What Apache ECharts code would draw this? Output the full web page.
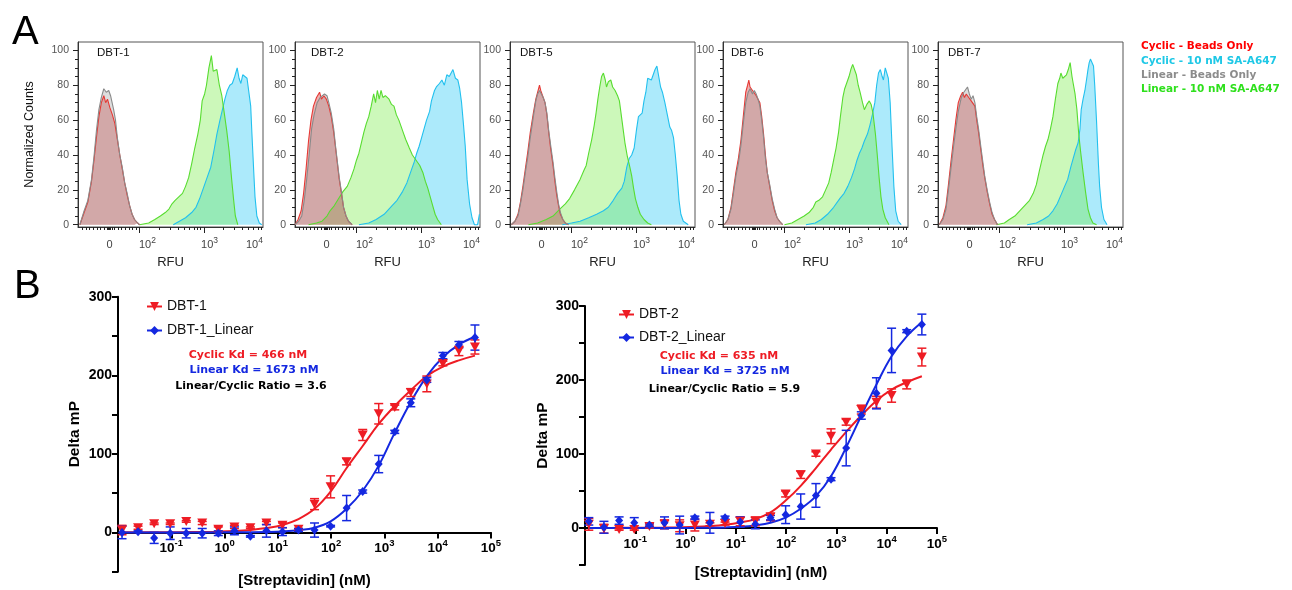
<!DOCTYPE html>
<html><head><meta charset="utf-8">
<script src="https://cdn.jsdelivr.net/npm/echarts@6.0.0/dist/echarts.min.js"></script>
<style>html,body{margin:0;padding:0;background:#fff}#c{width:1292px;height:590px}</style>
</head><body><div id="c"></div>
<script>
// ---------------- Panel A: flow histograms (x = display position on RFU axis, y = normalized count) ----------------
const histPanels = ['DBT-1','DBT-2','DBT-5','DBT-6','DBT-7'];
const histLegend = ['Cyclic - Beads Only','Cyclic - 10 nM SA-A647','Linear - Beads Only','Linear - 10 nM SA-A647'];
const histLabelPos = [1.515, 2.13, 3.14, 3.87];
const histLabelExp = ['0','2','3','4'];
const histTickMajor = [2.003, 3.046];
const histTickMinor = [1.07,1.13,1.19,1.25,1.31,1.37,1.43,1.47,1.49,1.51,1.53,1.55,1.59,1.65,1.71,1.77,1.83,1.89,1.95,
  2.317,2.5,2.63,2.731,2.814,2.884,2.944,2.997,3.36,3.543,3.673,3.774,3.857,3.927,3.987];
const histYMajor = [0,20,40,60,80,100];
const histYMinor = [5,10,15,25,30,35,45,50,55,65,70,75,85,90,95];

const dbt1CyclicBeads = [[1.03,0],[1.1,7],[1.16,13],[1.22,25],[1.26,37],[1.3,50],[1.34,62],[1.38,70],[1.42,74],[1.45,70],[1.48,72],[1.52,67],[1.56,63],[1.6,58],[1.64,49],[1.68,40],[1.72,32],[1.76,24],[1.8,17],[1.84,11],[1.88,6],[1.92,3],[1.97,1],[2.0,0]];
const dbt1LinearBeads = [[1.03,0],[1.1,8],[1.16,14],[1.22,26],[1.26,39],[1.3,54],[1.34,66],[1.38,73],[1.42,78],[1.46,76],[1.5,77],[1.53,74],[1.58,66],[1.61,60],[1.64,50],[1.68,40],[1.72,33],[1.76,24],[1.8,18],[1.84,11],[1.88,6],[1.92,3],[1.97,1],[2.0,0]];
const dbt1LinearSA = [[2.0,0],[2.15,1],[2.25,3],[2.34,5],[2.42,7],[2.48,9],[2.53,12],[2.58,14],[2.64,16],[2.7,18],[2.75,22],[2.8,27],[2.85,35],[2.9,44],[2.95,52],[2.99,60],[3.02,71],[3.06,75],[3.09,80],[3.13,90],[3.17,97],[3.2,88],[3.23,87],[3.26,89],[3.3,80],[3.34,74],[3.38,64],[3.42,54],[3.46,42],[3.5,26],[3.53,15],[3.56,5],[3.6,0]];
const dbt1CyclicSA = [[2.55,0],[2.65,2],[2.75,4],[2.85,7],[2.92,10],[2.98,15],[3.04,21],[3.1,27],[3.16,33],[3.22,44],[3.26,52],[3.31,60],[3.35,66],[3.39,72],[3.43,77],[3.47,80],[3.51,81],[3.55,85],[3.59,90],[3.62,84],[3.65,81],[3.68,86],[3.71,87],[3.75,84],[3.78,83],[3.81,68],[3.83,52],[3.86,30],[3.88,16],[3.91,5],[3.95,1],[3.99,0]];

const dbt2CyclicBeads = [[1.0,0],[1.05,3],[1.1,8],[1.14,18],[1.18,32],[1.22,48],[1.26,60],[1.3,68],[1.35,73],[1.4,76],[1.43,72],[1.47,74],[1.51,72],[1.55,68],[1.59,62],[1.63,53],[1.66,44],[1.69,35],[1.72,26],[1.76,17],[1.79,10],[1.83,5],[1.87,2],[1.93,0]];
const dbt2LinearBeads = [[1.0,0],[1.06,2],[1.11,5],[1.15,14],[1.19,26],[1.23,40],[1.27,55],[1.31,63],[1.36,70],[1.41,73],[1.44,72],[1.48,75],[1.52,74],[1.55,70],[1.59,64],[1.63,55],[1.66,45],[1.69,36],[1.72,27],[1.76,18],[1.79,10],[1.83,5],[1.87,2],[1.93,0]];
const dbt2LinearSA = [[1.22,0],[1.35,1],[1.44,2],[1.52,5],[1.57,8],[1.64,11],[1.71,15],[1.78,19],[1.85,22],[1.91,27],[1.96,32],[2.0,37],[2.04,41],[2.08,47],[2.12,53],[2.16,58],[2.2,62],[2.24,68],[2.28,75],[2.31,70],[2.34,77],[2.37,72],[2.4,77],[2.43,73],[2.47,74],[2.53,72],[2.57,69],[2.61,68],[2.65,63],[2.69,60],[2.75,54],[2.8,49],[2.86,44],[2.91,40],[2.95,38],[2.99,36],[3.03,34],[3.08,30],[3.12,25],[3.16,21],[3.2,16],[3.24,11],[3.28,6],[3.32,3],[3.38,0]];
const dbt2CyclicSA = [[2.04,0],[2.2,1],[2.32,3],[2.45,6],[2.58,11],[2.66,14],[2.75,19],[2.82,24],[2.86,28],[2.9,32],[2.94,36],[2.98,41],[3.02,45],[3.06,50],[3.1,55],[3.14,60],[3.19,65],[3.22,71],[3.27,77],[3.3,79],[3.35,81],[3.39,83],[3.43,80],[3.47,86],[3.51,85],[3.54,87],[3.57,89],[3.61,84],[3.65,83],[3.68,78],[3.71,70],[3.74,58],[3.77,45],[3.8,26],[3.84,12],[3.88,4],[3.92,0],[3.97,0],[4.0,6]];

const dbt5CyclicBeads = [[1.02,0],[1.08,2],[1.13,6],[1.17,13],[1.21,22],[1.25,32],[1.29,42],[1.33,53],[1.38,64],[1.42,72],[1.45,76],[1.48,80],[1.5,77],[1.53,74],[1.57,70],[1.6,63],[1.63,53],[1.66,44],[1.7,34],[1.73,25],[1.76,17],[1.79,11],[1.82,6],[1.86,3],[1.9,1],[1.95,0]];
const dbt5LinearBeads = [[1.02,0],[1.08,2],[1.13,5],[1.17,12],[1.21,20],[1.25,30],[1.29,39],[1.33,50],[1.38,62],[1.42,71],[1.45,75],[1.48,77],[1.51,76],[1.54,73],[1.57,70],[1.6,64],[1.63,54],[1.66,46],[1.7,36],[1.73,27],[1.76,19],[1.79,12],[1.82,7],[1.86,3],[1.9,1],[1.95,0]];
const dbt5LinearSA = [[1.3,0],[1.45,1],[1.59,3],[1.7,5],[1.81,9],[1.9,12],[1.97,15],[2.05,20],[2.14,26],[2.2,31],[2.24,34],[2.28,41],[2.33,49],[2.37,57],[2.4,64],[2.43,72],[2.46,79],[2.49,85],[2.52,87],[2.55,83],[2.57,79],[2.6,82],[2.64,83],[2.67,79],[2.71,77],[2.75,74],[2.78,71],[2.81,63],[2.84,55],[2.87,47],[2.91,39],[2.95,33],[2.98,28],[3.01,21],[3.04,15],[3.08,10],[3.12,6],[3.18,3],[3.24,1],[3.3,0]];
const dbt5CyclicSA = [[1.85,0],[2.0,1],[2.14,2],[2.28,4],[2.41,6],[2.52,8],[2.6,10],[2.68,14],[2.75,18],[2.82,21],[2.86,25],[2.9,33],[2.94,38],[2.98,40],[3.02,44],[3.06,55],[3.09,62],[3.12,61],[3.15,64],[3.18,71],[3.21,76],[3.24,84],[3.27,85],[3.3,83],[3.33,86],[3.36,89],[3.39,91],[3.42,85],[3.45,79],[3.48,76],[3.52,70],[3.56,63],[3.6,56],[3.63,54],[3.66,50],[3.69,40],[3.72,28],[3.75,14],[3.78,6],[3.82,2],[3.9,0]];

const dbt6CyclicBeads = [[1.02,0],[1.08,3],[1.13,10],[1.17,20],[1.21,30],[1.25,38],[1.29,48],[1.33,62],[1.37,76],[1.4,80],[1.42,83],[1.44,79],[1.47,78],[1.5,76],[1.54,74],[1.57,72],[1.6,70],[1.63,62],[1.66,52],[1.69,40],[1.72,30],[1.76,22],[1.8,14],[1.84,8],[1.88,4],[1.92,2],[1.97,0]];
const dbt6LinearBeads = [[1.02,0],[1.08,3],[1.13,9],[1.17,18],[1.21,28],[1.25,35],[1.29,45],[1.33,58],[1.37,70],[1.41,76],[1.44,78],[1.48,75],[1.51,77],[1.54,75],[1.57,72],[1.6,68],[1.63,60],[1.66,50],[1.69,38],[1.72,30],[1.76,23],[1.8,15],[1.84,9],[1.88,4],[1.92,2],[1.97,0]];
const dbt6LinearSA = [[2.0,0],[2.12,1],[2.22,3],[2.32,5],[2.4,7],[2.47,10],[2.51,13],[2.56,14],[2.62,16],[2.67,20],[2.72,24],[2.76,30],[2.8,37],[2.84,44],[2.88,53],[2.91,62],[2.95,73],[2.98,78],[3.02,82],[3.05,85],[3.08,89],[3.11,92],[3.14,91],[3.17,86],[3.2,80],[3.23,76],[3.27,70],[3.3,66],[3.34,69],[3.38,71],[3.41,69],[3.44,64],[3.48,52],[3.51,40],[3.54,27],[3.57,16],[3.6,9],[3.64,4],[3.7,0]];
const dbt6CyclicSA = [[2.35,0],[2.5,1],[2.6,3],[2.7,6],[2.8,10],[2.9,15],[2.97,18],[3.03,22],[3.09,27],[3.14,32],[3.18,37],[3.22,41],[3.26,44],[3.3,48],[3.35,52],[3.39,57],[3.43,63],[3.47,70],[3.5,80],[3.53,87],[3.56,89],[3.59,85],[3.61,83],[3.64,90],[3.66,91],[3.69,84],[3.72,70],[3.75,45],[3.78,22],[3.81,8],[3.85,2],[3.9,0]];

const dbt7CyclicBeads = [[1.02,0],[1.08,4],[1.13,11],[1.17,23],[1.21,36],[1.25,48],[1.29,60],[1.33,70],[1.37,74],[1.4,76],[1.43,73],[1.46,75],[1.5,73],[1.54,71],[1.57,72],[1.6,68],[1.63,60],[1.66,53],[1.7,42],[1.73,34],[1.76,27],[1.8,19],[1.84,12],[1.88,6],[1.92,3],[1.97,0]];
const dbt7LinearBeads = [[1.02,0],[1.08,3],[1.13,9],[1.17,20],[1.21,32],[1.25,44],[1.29,55],[1.33,65],[1.38,73],[1.42,76],[1.45,77],[1.48,79],[1.51,75],[1.54,72],[1.57,74],[1.6,70],[1.63,62],[1.66,55],[1.7,44],[1.73,36],[1.76,28],[1.8,20],[1.84,13],[1.88,7],[1.92,3],[1.97,0]];
const dbt7LinearSA = [[1.95,0],[2.08,1],[2.16,3],[2.25,5],[2.33,8],[2.41,11],[2.49,14],[2.55,18],[2.6,23],[2.65,31],[2.71,40],[2.75,45],[2.79,49],[2.83,55],[2.87,62],[2.91,72],[2.95,81],[2.98,84],[3.0,87],[3.03,84],[3.06,85],[3.09,86],[3.12,89],[3.15,93],[3.18,85],[3.2,81],[3.23,75],[3.26,66],[3.29,52],[3.32,42],[3.36,30],[3.4,19],[3.44,9],[3.48,4],[3.52,1],[3.58,0]];
const dbt7CyclicSA = [[2.45,0],[2.6,1],[2.71,3],[2.8,5],[2.87,8],[2.94,12],[3.0,17],[3.06,22],[3.11,26],[3.16,33],[3.2,38],[3.24,43],[3.28,47],[3.31,55],[3.33,66],[3.36,72],[3.39,77],[3.42,84],[3.44,89],[3.46,93],[3.48,95],[3.5,94],[3.53,91],[3.55,80],[3.58,59],[3.61,35],[3.63,22],[3.66,10],[3.7,3],[3.75,0]];

const cyclicBeadsSets = [dbt1CyclicBeads, dbt2CyclicBeads, dbt5CyclicBeads, dbt6CyclicBeads, dbt7CyclicBeads];
const linearBeadsSets = [dbt1LinearBeads, dbt2LinearBeads, dbt5LinearBeads, dbt6LinearBeads, dbt7LinearBeads];
const cyclicSASets = [dbt1CyclicSA, dbt2CyclicSA, dbt5CyclicSA, dbt6CyclicSA, dbt7CyclicSA];
const linearSASets = [dbt1LinearSA, dbt2LinearSA, dbt5LinearSA, dbt6LinearSA, dbt7LinearSA];

// ---------------- Panel B: FP binding curves ----------------
const conc = [0.0119,0.0238,0.0477,0.0954,0.191,0.381,0.763,1.53,3.05,6.10,12.2,24.4,48.8,97.7,195,391,781,1563,3125,6250,12500,25000,50000];
const dbt1Cyclic   = [3,6,11,11,14,12,4,7,6,12,9,4,36,58,90,124,151,159,178,189,215,231,236];
const dbt1CyclicSD = [6,2,1,1,1,2,3,2,1,2,3,1,7,14,4,7,13,3,5,10,3,6,9];
const dbt1Linear   = [0,1,-7,-1,-1,-1,-1,2,-5,2,1,3,3,8,31,52,87,128,165,194,225,239,248];
const dbt1LinearSD = [8,1,7,8,6,6,3,5,1,8,5,2,9,1,16,2,11,2,5,3,4,4,16];
const dbt2Cyclic   = [5,-1,-2,-2,2,5,3,4,5,6,9,9,15,46,72,100,124,143,160,170,179,194,231];
const dbt2CyclicSD = [8,6,1,1,2,6,8,8,2,2,6,6,5,4,5,3,10,4,6,8,9,6,12];
const dbt2Linear   = [9,1,10,7,4,7,4,14,7,14,8,5,14,18,29,44,66,108,152,182,240,266,275];
const dbt2LinearSD = [5,8,5,7,2,8,12,2,14,2,7,6,3,12,17,16,2,24,5,21,30,2,14];

// fitted curves at each concentration
const dbt1CyclicFit = [0.1,0.1,0.2,0.3,0.4,0.6,1,1.8,3.2,5.5,9.5,17,30,52,82,110,138,161,181,199,211,219,225];
const dbt1LinearFit = [0,0,0,0,0,0,0.1,0.2,0.3,0.6,1.3,2.8,6,14,30,53,85,127,166,199,223,239,249];
const dbt2CyclicFit = [0.1,0.1,0.2,0.3,0.4,0.6,1,1.6,2.7,4.5,7.5,12,21,37,57,81,106,130,152,172,187,197,205];
const dbt2LinearFit = [0,0,0,0,0,0,0.1,0.2,0.4,0.8,1.6,3.5,7,14,26,43,70,109,152,194,232,259,278];

const bYTicks = [0,100,200,300];
const kdTexts1 = ['Cyclic Kd = 466 nM','Linear Kd = 1673 nM','Linear/Cyclic Ratio = 3.6'];
const kdTexts2 = ['Cyclic Kd = 635 nM','Linear Kd = 3725 nM','Linear/Cyclic Ratio = 5.9'];

// ---------------- build ----------------
const SANS = "'Liberation Sans', Arial, sans-serif";
const VERD = "'DejaVu Sans', Verdana, sans-serif";
const RED = '#ee1c24', BLUE = '#1428e0';
const histColors = {
  cyan:  {fill:'rgba(40,200,245,0.55)', line:'#22c0ee'},
  green: {fill:'rgba(110,235,60,0.5)',  line:'#58dc30'},
  red:   {fill:'rgba(210,50,50,0.55)',  line:'#e53935'},
  gray:  {fill:'rgba(150,150,150,0.45)',line:'#8a8a8a'}
};
const histLefts = [78,295,510,723,938];
const histNameX = [97,311,520,731,948];

const grids=[], xAxes=[], yAxes=[], series=[], graphics=[];

function histLabelFmt(v){
  let best=0, bd=1e9;
  histLabelPos.forEach((p,i)=>{const d=Math.abs(p-v); if(d<bd){bd=d;best=i;}});
  const e = histLabelExp[best];
  return e==='0' ? '{n|0}' : '{b|10}{s|'+e+'}';
}
const histRich = {
  n:{fontSize:11, fontFamily:SANS, color:'#444', lineHeight:18},
  b:{fontSize:11, fontFamily:SANS, color:'#444', lineHeight:18},
  s:{fontSize:8.5, fontFamily:SANS, color:'#444', lineHeight:8, verticalAlign:'top'}
};

histPanels.forEach((name,i)=>{
  grids.push({left:histLefts[i], top:42, width:185, height:185, show:true, borderColor:'#555', borderWidth:1,
    backgroundColor:'transparent', containLabel:false, outerBoundsMode:'none'});
  xAxes.push({gridIndex:i, type:'value', position:'bottom', offset:0, min:1, max:4.01,
    axisLine:{show:true,onZero:false,lineStyle:{color:'#333',width:1}},
    axisTick:{show:true,customValues:histTickMajor,length:6,lineStyle:{color:'#222',width:1}},
    axisLabel:{customValues:histLabelPos, formatter:histLabelFmt, margin:9, rich:histRich},
    splitLine:{show:false},
    name:'RFU', nameLocation:'middle', nameGap:29,
    nameTextStyle:{fontSize:13, fontFamily:SANS, color:'#222'}});
  xAxes.push({gridIndex:i, type:'value', position:'bottom', offset:0, min:1, max:4.01,
    axisLine:{show:false,onZero:false},
    axisTick:{show:true,customValues:histTickMinor,length:3,lineStyle:{color:'#222',width:1}},
    axisLabel:{show:false}, splitLine:{show:false}});
  yAxes.push({gridIndex:i, type:'value', position:'left', offset:0, min:-1.3, max:104.8,
    axisLine:{show:true,onZero:false,lineStyle:{color:'#333',width:1}},
    axisTick:{show:true,customValues:histYMajor,length:5,lineStyle:{color:'#222'}},
    axisLabel:{customValues:histYMajor, fontSize:10.5, fontFamily:SANS, color:'#555', margin:9},
    splitLine:{show:false},
    name: i===0 ? 'Normalized Counts' : '', nameLocation:'middle', nameGap:42,
    nameTextStyle:{fontSize:12.5, fontFamily:SANS, color:'#111'}});
  yAxes.push({gridIndex:i, type:'value', position:'left', offset:0, min:-1.3, max:104.8,
    axisLine:{show:false,onZero:false},
    axisTick:{show:true,customValues:histYMinor,length:3,lineStyle:{color:'#222'}},
    axisLabel:{show:false}, splitLine:{show:false}});
  const xi = 2*i, yi = 2*i;
  const mk = (data, c, nm) => ({type:'line', name:nm, xAxisIndex:xi, yAxisIndex:yi, data:data,
    showSymbol:false, symbol:'none', smooth:false, silent:true,
    lineStyle:{color:c.line,width:1.1}, areaStyle:{color:c.fill, origin:0}});
  series.push(mk(cyclicSASets[i], histColors.cyan, histLegend[1]));
  series.push(mk(linearSASets[i], histColors.green, histLegend[3]));
  series.push(mk(cyclicBeadsSets[i], histColors.red, histLegend[0]));
  series.push(mk(linearBeadsSets[i], histColors.gray, histLegend[2]));
  graphics.push({type:'text', x:histNameX[i], y:53, silent:true,
    style:{text:name, fill:'#111', font:'11.5px '+SANS, align:'left', verticalAlign:'middle', textAlign:'left', textVerticalAlign:'middle'}});
});

// Panel B grids (x axis raised from the -50 floor up to the y = 0 line)
const bYMin = -50, bYMax = 300;
const bGrids = [
  {left:118, top:296.7, width:373, height:275, nameGapY:35, nameGapX:41},
  {left:585, top:306, width:352, height:259, nameGapY:34, nameGapX:37.5}
];
const bRich = {
  b:{fontSize:13.5, fontWeight:'bold', fontFamily:SANS, color:'#000', lineHeight:20},
  s:{fontSize:9.5, fontWeight:'bold', fontFamily:SANS, color:'#000', lineHeight:8, verticalAlign:'top'}
};
bGrids.forEach((g,k)=>{
  const gi = 5+k;
  const zeroLift = g.height * (0 - bYMin) / (bYMax - bYMin);
  grids.push({left:g.left, top:g.top, width:g.width, height:g.height, show:false, containLabel:false, outerBoundsMode:'none'});
  xAxes.push({gridIndex:gi, type:'log', logBase:10, min:0.01, max:100000, position:'bottom', offset:-zeroLift,
    axisLine:{show:true,onZero:false,lineStyle:{color:'#000',width:2}},
    axisTick:{show:true,length:6,lineStyle:{color:'#000',width:2}},
    minorTick:{show:false},
    axisLabel:{margin:6, rich:bRich, formatter:(v)=>{const e=Math.round(Math.log10(v)); return e<=-2?'':'{b|10}{s|'+e+'}';}},
    splitLine:{show:false},
    name:'[Streptavidin] (nM)', nameLocation:'middle', nameGap:g.nameGapX,
    nameTextStyle:{fontSize:15, fontWeight:'bold', fontFamily:SANS, color:'#000'}});
  yAxes.push({gridIndex:gi, type:'value', min:bYMin, max:bYMax, interval:50,
    axisLine:{show:true,onZero:false,lineStyle:{color:'#000',width:2}},
    axisTick:{show:true,length:6,lineStyle:{color:'#000',width:2}},
    axisLabel:{fontSize:14, fontWeight:'bold', fontFamily:SANS, color:'#000', margin:6,
      formatter:(v)=> bYTicks.indexOf(v)>=0 ? String(v) : ''},
    splitLine:{show:false},
    name:'Delta mP', nameLocation:'middle', nameGap:g.nameGapY,
    nameTextStyle:{fontSize:15.5, fontWeight:'bold', fontFamily:SANS, color:'#000'}});
});

function errRender(color){
  return function(params, api){
    const x = api.value(0), lo = api.value(1), hi = api.value(2);
    const a = api.coord([x, lo]), b = api.coord([x, hi]);
    const w = 4.5, st = {stroke:color, lineWidth:1.5};
    return {type:'group', children:[
      {type:'line', shape:{x1:a[0],y1:a[1],x2:b[0],y2:b[1]}, style:st},
      {type:'line', shape:{x1:a[0]-w,y1:a[1],x2:a[0]+w,y2:a[1]}, style:st},
      {type:'line', shape:{x1:b[0]-w,y1:b[1],x2:b[0]+w,y2:b[1]}, style:st}
    ]};
  };
}
function addB(idx, name, fit, vals, sds, color, symbol, rot, size){
  series.push({type:'line', name:name, xAxisIndex:idx, yAxisIndex:idx, data:conc.map((c,i)=>[c, fit[i]]),
    smooth:0.4, showSymbol:false, symbol:symbol, symbolRotate:rot, symbolSize:size,
    itemStyle:{color:color}, lineStyle:{color:color,width:2}, z:2, silent:true});
  series.push({type:'custom', name:name+' SD', xAxisIndex:idx, yAxisIndex:idx,
    renderItem:errRender(color), encode:{x:0,y:[1,2]}, z:3, silent:true,
    data:conc.map((c,i)=>[c, vals[i]-sds[i], vals[i]+sds[i]])});
  series.push({type:'scatter', name:name+' pts', xAxisIndex:idx, yAxisIndex:idx,
    data:conc.map((c,i)=>[c, vals[i]]), symbol:symbol, symbolRotate:rot, symbolSize:size,
    itemStyle:{color:color, opacity:1}, z:4, silent:true});
}
addB(10, 'DBT-1', dbt1CyclicFit, dbt1Cyclic, dbt1CyclicSD, RED, 'triangle', 180, [10,9]);
addB(10, 'DBT-1_Linear', dbt1LinearFit, dbt1Linear, dbt1LinearSD, BLUE, 'diamond', 0, [8,9]);
addB(11, 'DBT-2', dbt2CyclicFit, dbt2Cyclic, dbt2CyclicSD, RED, 'triangle', 180, [10,9]);
addB(11, 'DBT-2_Linear', dbt2LinearFit, dbt2Linear, dbt2LinearSD, BLUE, 'diamond', 0, [8,9]);

// texts
const txt = (t,x,y,font,fill,align) => ({type:'text', x:x, y:y, silent:true,
  style:{text:t, font:font, fill:fill, align:align||'left', verticalAlign:'middle', textAlign:align||'left', textVerticalAlign:'middle'}});
graphics.push(txt('A', 12, 33, '40px '+SANS, '#000'));
graphics.push(txt('B', 14, 287, '40px '+SANS, '#000'));
const legCols = ['#ff0000','#1ec8e6','#8c8c8c','#2ee01c'];
const legY = [46,61,75,89];
histLegend.forEach((t,i)=>graphics.push(txt(t, 1141, legY[i], 'bold 10.5px '+VERD, legCols[i])));
const kdCols = [RED, BLUE, '#000'];
const kd1Pos = [[248,355],[254,370.5],[251,386]];
const kd2Pos = [[719,356],[725,371],[724.5,389]];
kdTexts1.forEach((t,i)=>graphics.push(txt(t, kd1Pos[i][0], kd1Pos[i][1], 'bold 11px '+VERD, kdCols[i], 'center')));
kdTexts2.forEach((t,i)=>graphics.push(txt(t, kd2Pos[i][0], kd2Pos[i][1], 'bold 11px '+VERD, kdCols[i], 'center')));

const legendStyle = {orient:'vertical', itemWidth:15, itemHeight:11, selectedMode:false, padding:0,
  textStyle:{fontSize:14, fontFamily:SANS, color:'#111'}};
const option = {
  animation:false,
  backgroundColor:'#fff',
  grid:grids, xAxis:xAxes, yAxis:yAxes, series:series,
  legend:[
    Object.assign({data:['DBT-1','DBT-1_Linear'], left:146, top:299.5, itemGap:10}, legendStyle),
    Object.assign({data:['DBT-2','DBT-2_Linear'], left:618, top:307.5, itemGap:9}, legendStyle)
  ],
  graphic:graphics
};
const chart = echarts.init(document.getElementById('c'), null, {renderer:'canvas'});
chart.setOption(option);
</script></body></html>
